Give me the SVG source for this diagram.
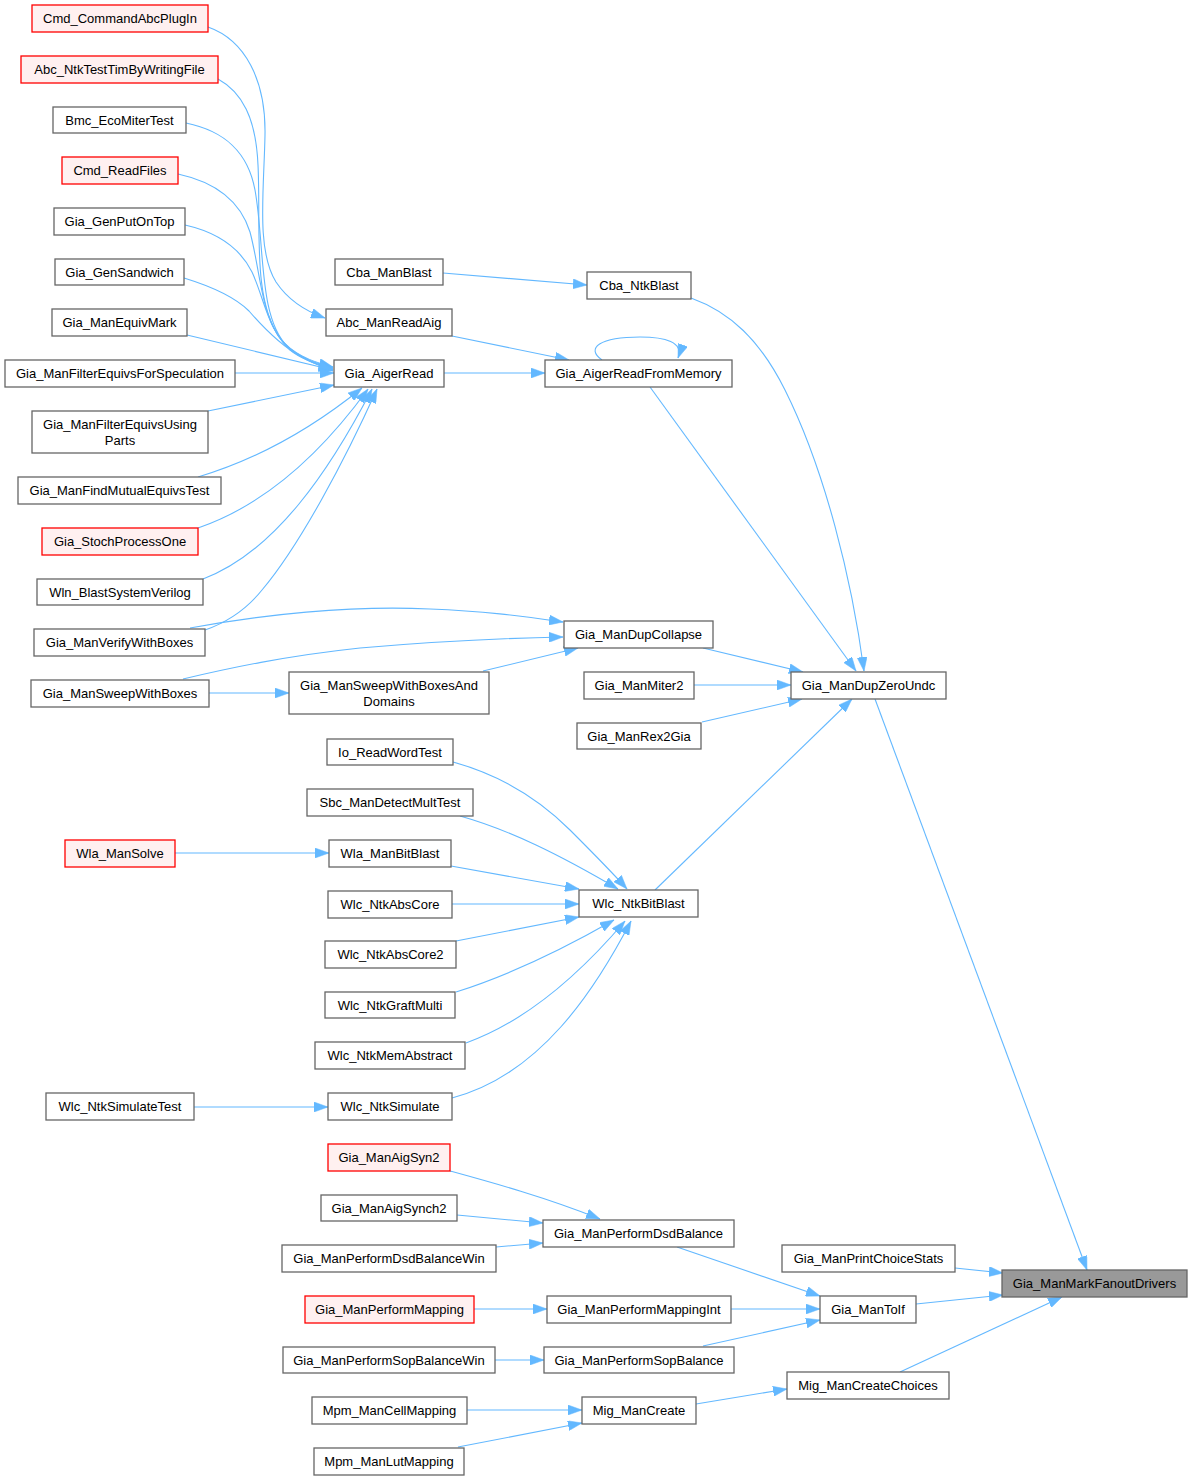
<svg xmlns="http://www.w3.org/2000/svg" width="1192" height="1480" viewBox="0 0 1192 1480">
<style>
.n rect{fill:#ffffff;stroke:#666666;stroke-width:1.3}
.n.r rect{fill:#fff0f0;stroke:#ff0000}
.n.g rect{fill:#999999;stroke:#666666}
.n text{font-family:"Liberation Sans",Arial,sans-serif;font-size:13px;fill:#000;text-anchor:middle}
.e path{fill:none;stroke:#63b8ff;stroke-width:1.1;marker-end:url(#ah)}
</style>
<defs>
<marker id="ah" viewBox="0 0 14 10" refX="14" refY="5" markerWidth="14" markerHeight="10" markerUnits="userSpaceOnUse" orient="auto">
<path d="M0,0 L14,5 L0,10 z" fill="#63b8ff" stroke="#63b8ff" stroke-width="0.5"/>
</marker>
</defs>
<rect x="0" y="0" width="1192" height="1480" fill="#ffffff"/>
<g id="edges" class="e">
<path d="M208,27 C245,40 266,80 265,135 C264,190 256,250 276,282 C288,300 305,311 325,318"/>
<path d="M218,79 C242,92 256,118 258,165 C261,225 252,300 280,338 C292,353 309,361 333,367"/>
<path d="M186,123 C225,131 248,152 255,190 C265,245 258,318 288,347 C301,358 315,363 333,368"/>
<path d="M178,174 C215,182 240,200 250,232 C262,277 260,322 290,350 C301,359 315,364 333,369"/>
<path d="M185,225 C216,232 240,248 252,272 C265,300 268,334 294,352 C305,360 318,365 333,370"/>
<path d="M184,278 C210,286 234,296 249,311 C262,326 280,345 300,356 C310,362 320,366 333,371"/>
<path d="M187,335 L333,370"/>
<path d="M235,373 L334,373"/>
<path d="M208,411 L334,385"/>
<path d="M198,477 C255,460 310,430 362,388"/>
<path d="M198,528 C265,505 320,455 368,389"/>
<path d="M203,579 C275,552 330,470 372,389"/>
<path d="M205,630 C225,623 246,610 262,590 C300,545 345,460 377,389"/>
<path d="M444,373 L545,373"/>
<path d="M452,336 L569,360"/>
<path d="M443,273 L587,285"/>
<path d="M602,360 C585,348 600,337 640,337 C665,337 684,342 678,358"/>
<path d="M650,387 L856,671"/>
<path d="M691,298 C730,312 760,340 785,390 C825,470 852,580 864,671"/>
<path d="M703,648 L803,672"/>
<path d="M694,685 L791,685"/>
<path d="M702,722 L802,699"/>
<path d="M655,890 L852,699"/>
<path d="M875,699 L1087,1270"/>
<path d="M955,1268 L1003,1273"/>
<path d="M916,1304 L1003,1295"/>
<path d="M900,1372 L1062,1297"/>
<path d="M190,628 C260,615 350,605 430,609 C485,611 520,616 563,622"/>
<path d="M183,679 C230,668 285,656 360,648 C440,641 510,638 563,637"/>
<path d="M209,693 L289,693"/>
<path d="M483,671 L578,648"/>
<path d="M453,762 C500,775 540,800 570,830 C590,850 610,870 627,889"/>
<path d="M460,816 C510,830 560,855 618,889"/>
<path d="M451,866 L579,889"/>
<path d="M452,904 L579,904"/>
<path d="M456,941 L579,917"/>
<path d="M456,992 C510,975 565,948 614,920"/>
<path d="M466,1043 C530,1020 585,968 625,921"/>
<path d="M452,1098 C540,1075 595,990 631,921"/>
<path d="M175,853 L329,853"/>
<path d="M194,1107 L328,1107"/>
<path d="M450,1171 C490,1182 545,1197 600,1219"/>
<path d="M457,1215 L543,1223"/>
<path d="M496,1247 L543,1243"/>
<path d="M474,1309 L547,1309"/>
<path d="M495,1360 L544,1360"/>
<path d="M467,1410 L582,1410"/>
<path d="M458,1447 L582,1423"/>
<path d="M677,1247 L820,1296"/>
<path d="M731,1309 L820,1309"/>
<path d="M703,1346 L820,1320"/>
<path d="M696,1404 L787,1389"/>
</g>
<g id="n1" class="n r"><rect x="32" y="5" width="176" height="27"/><text x="120" y="23">Cmd_CommandAbcPlugIn</text></g>
<g id="n2" class="n r"><rect x="21" y="56" width="197" height="27"/><text x="119.5" y="74">Abc_NtkTestTimByWritingFile</text></g>
<g id="n3" class="n"><rect x="53" y="107" width="133" height="26"/><text x="119.5" y="124.5">Bmc_EcoMiterTest</text></g>
<g id="n4" class="n r"><rect x="62" y="157" width="116" height="27"/><text x="120" y="175">Cmd_ReadFiles</text></g>
<g id="n5" class="n"><rect x="54" y="208" width="131" height="27"/><text x="119.5" y="226">Gia_GenPutOnTop</text></g>
<g id="n6" class="n"><rect x="55" y="259" width="129" height="26"/><text x="119.5" y="276.5">Gia_GenSandwich</text></g>
<g id="n7" class="n"><rect x="52" y="309" width="135" height="27"/><text x="119.5" y="327">Gia_ManEquivMark</text></g>
<g id="n8" class="n"><rect x="5" y="360" width="230" height="27"/><text x="120" y="378">Gia_ManFilterEquivsForSpeculation</text></g>
<g id="n9" class="n"><rect x="32" y="411" width="176" height="42"/><text x="120" y="428.5">Gia_ManFilterEquivsUsing</text><text x="120" y="444.5">Parts</text></g>
<g id="n10" class="n"><rect x="18" y="477" width="203" height="27"/><text x="119.5" y="495">Gia_ManFindMutualEquivsTest</text></g>
<g id="n11" class="n r"><rect x="42" y="528" width="156" height="27"/><text x="120" y="546">Gia_StochProcessOne</text></g>
<g id="n12" class="n"><rect x="37" y="579" width="166" height="26"/><text x="120" y="596.5">Wln_BlastSystemVerilog</text></g>
<g id="n13" class="n"><rect x="34" y="629" width="171" height="27"/><text x="119.5" y="647">Gia_ManVerifyWithBoxes</text></g>
<g id="n14" class="n"><rect x="31" y="680" width="178" height="27"/><text x="120" y="698">Gia_ManSweepWithBoxes</text></g>
<g id="n15" class="n"><rect x="335" y="259" width="108" height="26"/><text x="389" y="276.5">Cba_ManBlast</text></g>
<g id="n16" class="n"><rect x="326" y="309" width="126" height="27"/><text x="389" y="327">Abc_ManReadAig</text></g>
<g id="n17" class="n"><rect x="334" y="360" width="110" height="27"/><text x="389" y="378">Gia_AigerRead</text></g>
<g id="n18" class="n"><rect x="289" y="672" width="200" height="42"/><text x="389" y="689.5">Gia_ManSweepWithBoxesAnd</text><text x="389" y="705.5">Domains</text></g>
<g id="n19" class="n"><rect x="587" y="272" width="104" height="27"/><text x="639" y="290">Cba_NtkBlast</text></g>
<g id="n20" class="n"><rect x="545" y="360" width="187" height="27"/><text x="638.5" y="378">Gia_AigerReadFromMemory</text></g>
<g id="n21" class="n"><rect x="564" y="621" width="149" height="27"/><text x="638.5" y="639">Gia_ManDupCollapse</text></g>
<g id="n22" class="n"><rect x="584" y="672" width="110" height="27"/><text x="639" y="690">Gia_ManMiter2</text></g>
<g id="n23" class="n"><rect x="577" y="723" width="124" height="26"/><text x="639" y="740.5">Gia_ManRex2Gia</text></g>
<g id="n24" class="n"><rect x="791" y="672" width="155" height="27"/><text x="868.5" y="690">Gia_ManDupZeroUndc</text></g>
<g id="n25" class="n"><rect x="327" y="739" width="126" height="26"/><text x="390" y="756.5">Io_ReadWordTest</text></g>
<g id="n26" class="n"><rect x="307" y="789" width="166" height="27"/><text x="390" y="807">Sbc_ManDetectMultTest</text></g>
<g id="n27" class="n r"><rect x="65" y="840" width="110" height="27"/><text x="120" y="858">Wla_ManSolve</text></g>
<g id="n28" class="n"><rect x="329" y="840" width="122" height="27"/><text x="390" y="858">Wla_ManBitBlast</text></g>
<g id="n29" class="n"><rect x="328" y="891" width="124" height="27"/><text x="390" y="909">Wlc_NtkAbsCore</text></g>
<g id="n30" class="n"><rect x="579" y="890" width="119" height="27"/><text x="638.5" y="908">Wlc_NtkBitBlast</text></g>
<g id="n31" class="n"><rect x="325" y="941" width="131" height="27"/><text x="390.5" y="959">Wlc_NtkAbsCore2</text></g>
<g id="n32" class="n"><rect x="325" y="992" width="130" height="26"/><text x="390" y="1009.5">Wlc_NtkGraftMulti</text></g>
<g id="n33" class="n"><rect x="315" y="1042" width="150" height="27"/><text x="390" y="1060">Wlc_NtkMemAbstract</text></g>
<g id="n34" class="n"><rect x="46" y="1093" width="148" height="27"/><text x="120" y="1111">Wlc_NtkSimulateTest</text></g>
<g id="n35" class="n"><rect x="328" y="1093" width="124" height="27"/><text x="390" y="1111">Wlc_NtkSimulate</text></g>
<g id="n36" class="n r"><rect x="328" y="1144" width="122" height="27"/><text x="389" y="1162">Gia_ManAigSyn2</text></g>
<g id="n37" class="n"><rect x="321" y="1195" width="136" height="26"/><text x="389" y="1212.5">Gia_ManAigSynch2</text></g>
<g id="n38" class="n"><rect x="543" y="1220" width="191" height="27"/><text x="638.5" y="1238">Gia_ManPerformDsdBalance</text></g>
<g id="n39" class="n"><rect x="282" y="1245" width="214" height="27"/><text x="389" y="1263">Gia_ManPerformDsdBalanceWin</text></g>
<g id="n40" class="n"><rect x="782" y="1245" width="173" height="27"/><text x="868.5" y="1263">Gia_ManPrintChoiceStats</text></g>
<g id="n41" class="n g"><rect x="1002" y="1270" width="185" height="27"/><text x="1094.5" y="1288">Gia_ManMarkFanoutDrivers</text></g>
<g id="n42" class="n r"><rect x="305" y="1296" width="169" height="27"/><text x="389.5" y="1314">Gia_ManPerformMapping</text></g>
<g id="n43" class="n"><rect x="547" y="1296" width="184" height="27"/><text x="639" y="1314">Gia_ManPerformMappingInt</text></g>
<g id="n44" class="n"><rect x="820" y="1296" width="96" height="27"/><text x="868" y="1314">Gia_ManToIf</text></g>
<g id="n45" class="n"><rect x="283" y="1347" width="212" height="26"/><text x="389" y="1364.5">Gia_ManPerformSopBalanceWin</text></g>
<g id="n46" class="n"><rect x="544" y="1347" width="190" height="26"/><text x="639" y="1364.5">Gia_ManPerformSopBalance</text></g>
<g id="n47" class="n"><rect x="787" y="1372" width="162" height="27"/><text x="868" y="1390">Mig_ManCreateChoices</text></g>
<g id="n48" class="n"><rect x="312" y="1397" width="155" height="27"/><text x="389.5" y="1415">Mpm_ManCellMapping</text></g>
<g id="n49" class="n"><rect x="582" y="1397" width="114" height="27"/><text x="639" y="1415">Mig_ManCreate</text></g>
<g id="n50" class="n"><rect x="314" y="1448" width="150" height="27"/><text x="389" y="1466">Mpm_ManLutMapping</text></g>
</svg>
